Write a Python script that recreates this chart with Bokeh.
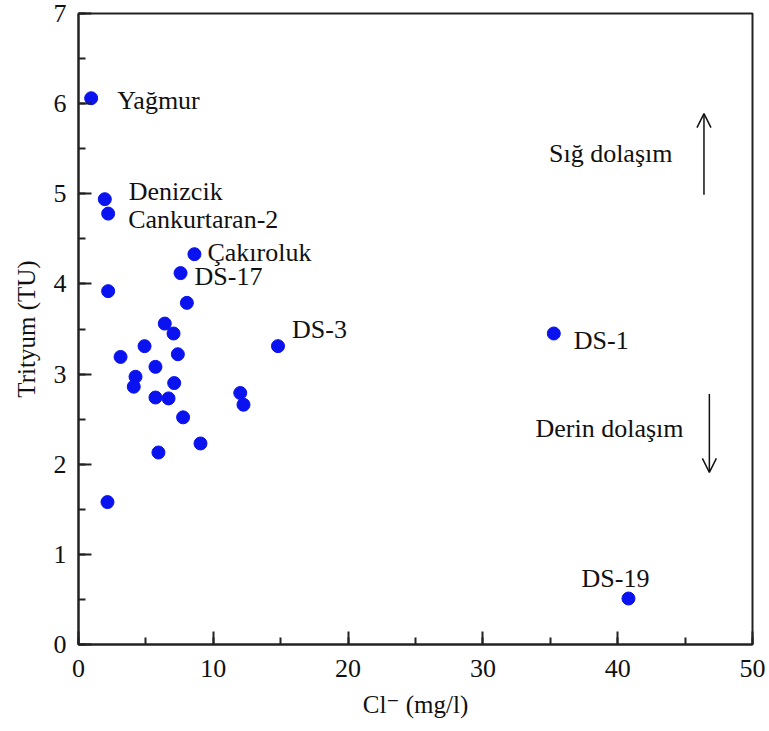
from bokeh.plotting import figure
from bokeh.models import ColumnDataSource, SingleIntervalTicker, Arrow, OpenHead, Label, Range1d
from bokeh.core.properties import value
from bokeh.embed import file_html
from bokeh.resources import INLINE

# Data
cl = [0.94, 1.95, 2.2, 8.6, 7.57, 2.2, 8.04, 6.4, 7.05, 4.9, 14.8, 3.12, 7.37, 5.71,
      4.23, 4.1, 7.1, 12.0, 12.24, 5.71, 6.68, 7.76, 9.05, 5.93, 2.15, 35.26, 40.8]
tritium = [6.06, 4.94, 4.78, 4.33, 4.12, 3.92, 3.79, 3.56, 3.45, 3.31, 3.31, 3.19, 3.22, 3.08,
           2.97, 2.86, 2.90, 2.79, 2.66, 2.74, 2.73, 2.52, 2.23, 2.13, 1.58, 3.45, 0.51]
names = ["Yağmur", "Denizcik", "Cankurtaran-2", "Çakıroluk", "DS-17", "", "", "", "", "", "DS-3",
         "", "", "", "", "", "", "", "", "", "", "", "", "", "", "DS-1", "DS-19"]

# label offsets in screen pixels (dx right, dy down)
label_dx = {"Yağmur": 26, "Denizcik": 24, "Cankurtaran-2": 20, "Çakıroluk": 13,
            "DS-17": 14, "DS-3": 14, "DS-1": 20, "DS-19": -47}
label_dy = {"Yağmur": 2, "Denizcik": -8, "Cankurtaran-2": 6, "Çakıroluk": -2,
            "DS-17": 3, "DS-3": -17, "DS-1": 7, "DS-19": -20}

FONT = "'Liberation Serif', 'Times New Roman', Times, 'DejaVu Serif', serif"

p = figure(width=769, height=731, output_backend="svg", toolbar_location=None,
           x_range=Range1d(0, 50), y_range=Range1d(0, 7),
           min_border_left=78, min_border_right=17, min_border_top=13, min_border_bottom=87)
p.grid.visible = False
p.outline_line_color = "#222222"
p.outline_line_width = 2

src = ColumnDataSource(dict(x=cl, y=tritium))
p.scatter("x", "y", source=src, size=13, fill_color="#0a12f0", line_color="#0a12f0")

lx, ly, lt, ox, oy = [], [], [], [], []
for xv, yv, n in zip(cl, tritium, names):
    if n:
        lx.append(xv); ly.append(yv); lt.append(n)
        ox.append(label_dx[n]); oy.append(label_dy[n])
lsrc = ColumnDataSource(dict(x=lx, y=ly, t=lt, ox=ox, oy=oy))
p.text("x", "y", text="t", x_offset="ox", y_offset="oy", source=lsrc,
       text_font=value(FONT), text_font_size="26px", text_baseline="middle",
       text_align="left", text_color="#111111")

for ax in (p.xaxis[0], p.yaxis[0]):
    ax.major_tick_in = 13
    ax.major_tick_out = 0
    ax.minor_tick_in = 7
    ax.minor_tick_out = 0
    ax.axis_line_width = 2
    ax.axis_line_color = "#222222"
    ax.major_tick_line_width = 2
    ax.minor_tick_line_width = 2
    ax.major_tick_line_color = "#222222"
    ax.minor_tick_line_color = "#222222"
    ax.major_label_text_font = FONT
    ax.major_label_text_font_size = "26px"
    ax.major_label_text_color = "#111111"
    ax.axis_label_text_font = FONT
    ax.axis_label_text_font_size = "25px"
    ax.axis_label_text_font_style = "normal"
    ax.axis_label_text_color = "#111111"

p.xaxis.ticker = SingleIntervalTicker(interval=10, num_minor_ticks=2)
p.yaxis.ticker = SingleIntervalTicker(interval=1, num_minor_ticks=2)
p.xaxis.axis_label = "Cl⁻ (mg/l)"
p.yaxis.axis_label = "Trityum (TU)"
p.xaxis.major_label_standoff = 15
p.xaxis.axis_label_standoff = 11
p.yaxis.major_label_standoff = 12
p.yaxis.axis_label_standoff = 11

p.add_layout(Arrow(end=OpenHead(size=14, line_width=1.5, line_color="#111111"),
                   x_start=46.4, y_start=4.99, x_end=46.4, y_end=5.89,
                   line_width=1.5, line_color="#111111"))
p.add_layout(Arrow(end=OpenHead(size=14, line_width=1.5, line_color="#111111"),
                   x_start=46.8, y_start=2.78, x_end=46.8, y_end=1.91,
                   line_width=1.5, line_color="#111111"))
p.add_layout(Label(x=34.9, y=5.45, text="Sığ dolaşım", text_font=FONT,
                   text_font_size="26px", text_baseline="middle", text_color="#111111"))
p.add_layout(Label(x=33.9, y=2.4, text="Derin dolaşım", text_font=FONT,
                   text_font_size="26px", text_baseline="middle", text_color="#111111"))

open("out.html", "w").write(file_html(p, INLINE))
